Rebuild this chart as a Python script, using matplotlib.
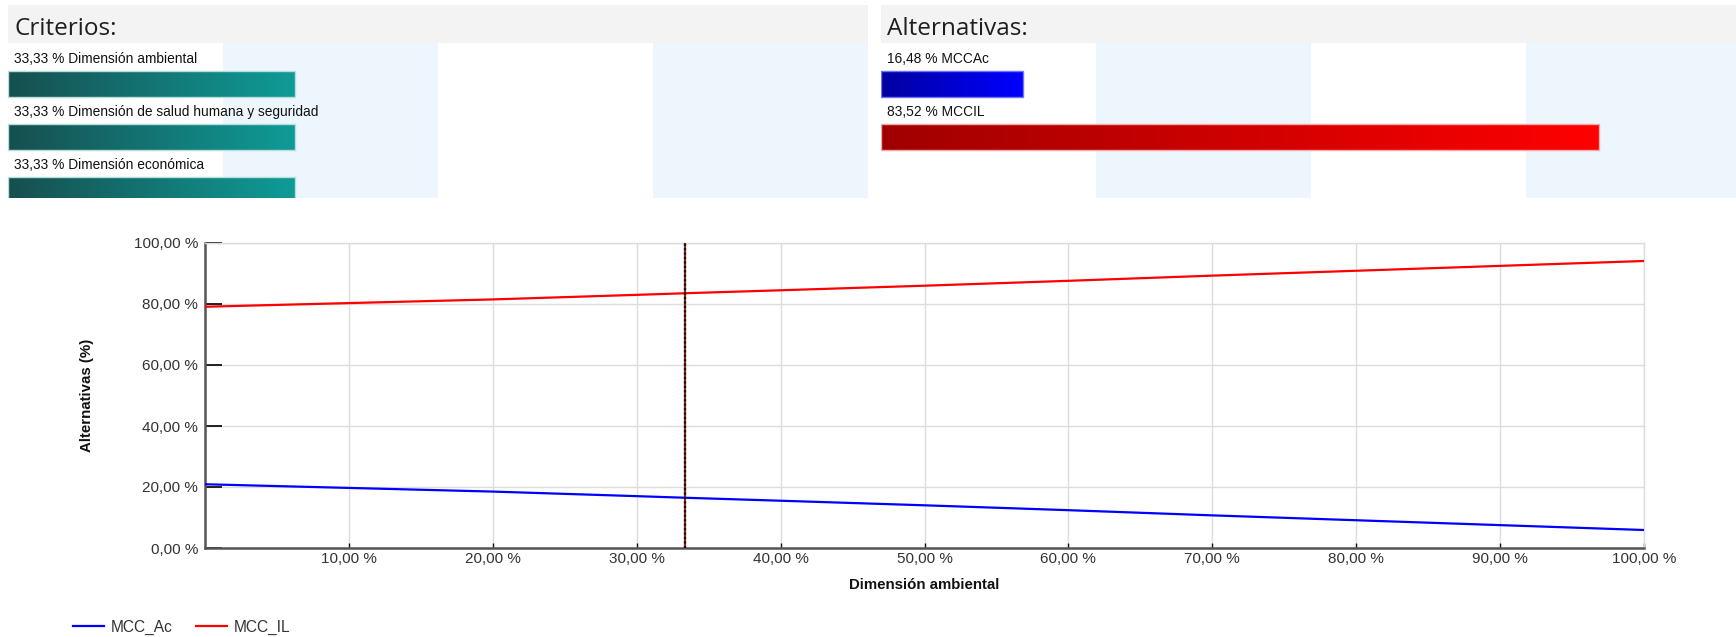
import numpy as np
import matplotlib.pyplot as plt
from matplotlib.colors import LinearSegmentedColormap
from matplotlib.patches import Rectangle

# Data
criterios = ['Dimensión ambiental', 'Dimensión de salud humana y seguridad', 'Dimensión económica']
pesos = [33.33, 33.33, 33.33]
alternativas = ['MCCAc', 'MCCIL']
puntajes = [16.48, 83.52]

# sensibilidad respecto a la dimension ambiental
peso_ambiental = [0, 10, 20, 30, 33.33, 40, 50, 60, 70, 80, 90, 100]
mcc_ac = [20.9, 19.7, 18.5, 17.0, 16.48, 15.5, 14.0, 12.4, 10.7, 9.1, 7.5, 5.9]
mcc_il = [79.1, 80.3, 81.5, 83.0, 83.52, 84.5, 86.0, 87.6, 89.3, 90.9, 92.5, 94.1]
peso_actual = 33.33

W, H = 1736, 637
plt.rcParams['font.family'] = ['Liberation Sans', 'DejaVu Sans']
fig = plt.figure(figsize=(W / 100, H / 100), dpi=100)


def px(x0, y0, w, h):
    # rect in pixels from top-left -> figure fraction
    return [x0 / W, (H - y0 - h) / H, w / W, h / H]


def gradient_bar(ax, i, v, c0, c1, edge):
    cmap = LinearSegmentedColormap.from_list('g', [c0, c1])
    grad = np.linspace(0, 1, 256).reshape(1, -1)
    hb = 0.49
    ax.imshow(grad, cmap=cmap, aspect='auto', extent=[0, v, i + hb / 2, i - hb / 2],
              interpolation='bilinear', zorder=2)
    ax.add_patch(Rectangle((0, i - hb / 2), v, hb, fill=False, edgecolor=edge, lw=1, zorder=3))


def panel(x0, titulo, nombres, valores, colores):
    hdr = fig.add_axes(px(x0, 5, 860, 38))
    hdr.set_facecolor('#f3f3f3')
    hdr.set_xticks([]); hdr.set_yticks([])
    for s in hdr.spines.values():
        s.set_visible(False)
    hdr.text(0.007, 0.2, titulo, fontsize=17.5, family=['Open Sans', 'DejaVu Sans'],
             color='#1e1e1e', va='baseline', ha='left', transform=hdr.transAxes)

    ax = fig.add_axes(px(x0, 43, 860, 155))
    ax.set_xlim(0, 100)
    ax.set_ylim(2.15, -0.774)
    ax.axvspan(25, 50, color='#eef6fd', lw=0, zorder=0)
    ax.axvspan(75, 100, color='#eef6fd', lw=0, zorder=0)
    for i, (n, v, c) in enumerate(zip(nombres, valores, colores)):
        gradient_bar(ax, i, v, *c)
        etiqueta = f"{v:.2f}".replace('.', ',') + ' % ' + n
        ax.text(0.7, i - 0.396, etiqueta, fontsize=9.9, color='#111111', va='baseline', zorder=4)
    ax.set_xticks([]); ax.set_yticks([])
    for s in ax.spines.values():
        s.set_visible(False)


teal = ('#174f50', '#0f9b97', '#b5dedb')
panel(8, 'Criterios:', criterios, pesos, [teal] * 3)
panel(881, 'Alternativas:', alternativas, puntajes,
      [('#0000a0', '#0000ff', '#7070ff'), ('#a00000', '#ff0000', '#f4a8a8')])

# grafico de sensibilidad
ax = fig.add_axes(px(205, 243, 1439, 305))
l1, = ax.plot(peso_ambiental, mcc_ac, color='#0000ff', lw=1.6, label='MCC_Ac', zorder=3)
l2, = ax.plot(peso_ambiental, mcc_il, color='#ff0000', lw=1.6, label='MCC_IL', zorder=3)
ax.axvline(peso_actual, color='#8b2a10', lw=1.6, zorder=4)
ax.axvline(peso_actual, color='#111111', lw=1.6, ls=(0, (1, 1)), zorder=5)

ax.set_xlim(0, 100)
ax.set_ylim(0, 100)
ax.set_xticks(np.arange(10, 101, 10))
ax.set_yticks(np.arange(0, 101, 20))
fmt = lambda v: f"{v:.2f}".replace('.', ',') + ' %'
ax.set_xticklabels([fmt(v) for v in np.arange(10, 101, 10)])
ax.set_yticklabels([fmt(v) for v in np.arange(0, 101, 20)])
ax.grid(True, color='#dcdcdc', lw=1)
ax.set_axisbelow(True)
ax.tick_params(axis='y', direction='in', length=12.5, width=1.3, color='#111111',
               labelsize=11, labelcolor='#333333', pad=5)
ax.tick_params(axis='x', direction='in', length=3.5, width=1, color='#111111',
               labelsize=11, labelcolor='#333333', pad=3)
for s in ['left', 'bottom']:
    ax.spines[s].set_color('#555555')
    ax.spines[s].set_linewidth(1.8)
for s in ['top', 'right']:
    ax.spines[s].set_color('#dcdcdc')
    ax.spines[s].set_linewidth(1)

ax.set_xlabel('Dimensión ambiental', fontsize=10.8, fontweight='bold', color='#111111')
ax.xaxis.set_label_coords(0.5, -0.121)
ax.xaxis.label.set_va('center')
ax.set_ylabel('Alternativas (%)', fontsize=10.8, fontweight='bold', color='#111111')
ax.yaxis.set_label_coords(-0.082, 0.5)
ax.yaxis.label.set_va('center')

fig.legend(handles=[l1, l2], loc='center left', bbox_to_anchor=(73 / W, 10 / H), ncol=2,
           frameon=False, fontsize=11.2, handlelength=2.0, handletextpad=0.45,
           columnspacing=1.45, borderpad=0, borderaxespad=0, labelcolor='#333333')

fig.savefig('out.png', dpi=100)
